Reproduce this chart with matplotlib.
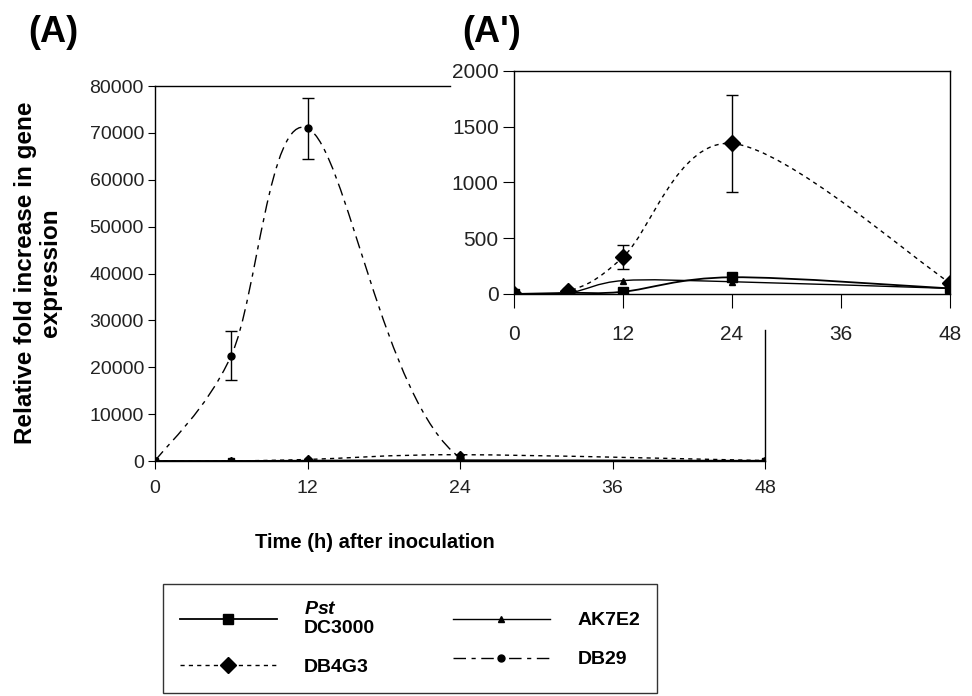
import numpy as np
import matplotlib as mpl; mpl.use("Agg")
import matplotlib.pyplot as plt
from matplotlib.path import Path
from matplotlib.patches import PathPatch
from matplotlib.lines import Line2D
from matplotlib import font_manager as fm

# ---- data ----
hours = [0, 6, 12, 24, 48]
pst   = [0, 10, 20, 150, 50]
ak7e2 = [0, 10, 120, 110, 50]
db4g3 = [0, 25, 330, 1350, 100]
db4g3_err = [0, 0, 110, 435, 0]
db29  = [0, 22500, 71000, 700, 0]
db29_err = [0, 5300, 6500, 0, 0]
xticks = [0, 12, 24, 36, 48]
main_yticks = list(range(0, 80001, 10000))
inset_yticks = [0, 500, 1000, 1500, 2000]

names = [f.name for f in fm.fontManager.ttflist]
NARROW = "Liberation Sans Narrow" if "Liberation Sans Narrow" in names else "Liberation Sans"
mpl.rcParams.update({"font.family": ["Liberation Sans", "DejaVu Sans"],
                     "mathtext.fontset": "custom",
                     "mathtext.rm": "Liberation Sans",
                     "mathtext.it": "Liberation Sans:italic",
                     "mathtext.bf": "Liberation Sans:bold",
                     "mathtext.bfit": "Liberation Sans:bold:italic"})

STY = {
    "pst":   dict(ls="-",  marker="s", ms=7,  lw=1.3),
    "ak":    dict(ls="-",  marker="^", ms=5,  lw=1.0),
    "db4":   dict(ls=(0, (3, 3)), marker="D", ms=8, lw=1.0),
    "db29":  dict(ls=(0, (9, 4, 3, 4)), marker="o", ms=5, lw=1.0),
}

def smooth_path(x, y):
    # Excel-style smoothed line: cubic bezier through the points
    p = np.column_stack([x, y]).astype(float)
    n = len(p)
    verts = [p[0]]; codes = [Path.MOVETO]
    for i in range(n - 1):
        p0 = p[i - 1] if i > 0 else p[i]
        p3 = p[i + 2] if i + 2 < n else p[i + 1]
        c1 = p[i] + (p[i + 1] - p0) / 6.0
        c2 = p[i + 1] - (p3 - p[i]) / 6.0
        verts += [c1, c2, p[i + 1]]; codes += [Path.CURVE4] * 3
    return Path(verts, codes)

def series(ax, x, y, key, err=None, msscale=1.0):
    st = STY[key]
    ax.add_patch(PathPatch(smooth_path(x, y), fill=False, ec="black",
                           lw=st["lw"], ls=st["ls"], zorder=3))
    if err is not None:
        idx = [i for i, e in enumerate(err) if e > 0]
        ax.errorbar([x[i] for i in idx], [y[i] for i in idx], yerr=[err[i] for i in idx],
                    fmt="none", ecolor="black", elinewidth=1.0, capsize=4, capthick=1.0, zorder=4)
    ax.plot(x, y, ls="none", marker=st["marker"], ms=st["ms"] * msscale, color="black", zorder=5)

def style_axes(ax):
    for s in ax.spines.values():
        s.set_linewidth(1.0)
    ax.tick_params(direction="out", colors="black", labelcolor="#222222")
    for lab in ax.get_xticklabels() + ax.get_yticklabels():
        lab.set_fontfamily([NARROW, "DejaVu Sans"])

fig = plt.figure(figsize=(9.72, 6.96), dpi=100)

# main panel (A)
ax = fig.add_axes([0.1595, 0.3376, 0.6276, 0.5388])
series(ax, hours, pst, "pst", msscale=0.6)
series(ax, hours, ak7e2, "ak", msscale=0.8)
series(ax, hours, db4g3, "db4", msscale=0.5)
series(ax, hours, db29, "db29", err=db29_err)
ax.set_xlim(0, 48); ax.set_ylim(0, 80000)
ax.set_xticks(xticks); ax.set_yticks(main_yticks)
ax.set_xticklabels([str(t) for t in xticks], fontsize=14)
ax.set_yticklabels([str(t) for t in main_yticks], fontsize=14)
ax.tick_params(axis="x", length=6, pad=8)
ax.tick_params(axis="y", length=5, pad=3)
ax.spines["top"].set_bounds(0, 23.2)
ax.spines["right"].set_bounds(0, 27900)
style_axes(ax)

# inset panel (A')
axi = fig.add_axes([0.5288, 0.5776, 0.4486, 0.3204])
series(axi, hours, pst, "pst")
series(axi, hours, ak7e2, "ak")
series(axi, hours, db4g3, "db4", err=db4g3_err)
axi.set_xlim(0, 48); axi.set_ylim(0, 2000)
axi.set_xticks(xticks); axi.set_yticks(inset_yticks)
axi.set_xticklabels([str(t) for t in xticks], fontsize=15)
axi.set_yticklabels([str(t) for t in inset_yticks], fontsize=15)
axi.tick_params(axis="x", length=10, pad=12)
axi.tick_params(axis="y", length=8, pad=3)
style_axes(axi)

# panel letters and axis titles
fig.text(53 / 972, 1 - 32 / 696, "(A)", fontsize=26, fontweight="bold", ha="center", va="center")
fig.text(492 / 972, 1 - 32 / 696, "(A')", fontsize=26, fontweight="bold", ha="center", va="center")
fig.text(38 / 972, 1 - 273 / 696, "Relative fold increase in gene\nexpression", rotation=90,
         fontsize=17.5, fontweight="bold", ha="center", va="center", multialignment="center",
         linespacing=1.15)
fig.text(375 / 972, 1 - 543 / 696, "Time (h) after inoculation", fontsize=14.5,
         fontweight="bold", ha="center", va="center")

# legend
def handle(key):
    st = STY[key]
    return Line2D([0], [0], color="black", lw=st["lw"], ls=st["ls"], marker=st["marker"], ms=st["ms"])

handles = [handle("pst"), handle("db4"), handle("ak"), handle("db29")]
labels = [r"$\mathbfit{Pst}$" + "\nDC3000", "DB4G3", "AK7E2", "DB29"]
leg = fig.legend(handles, labels, loc="upper left", bbox_to_anchor=(163 / 972, 1 - 584 / 696),
                 ncol=2, prop={"weight": "bold", "size": 14}, frameon=True, borderaxespad=0,
                 fancybox=False, edgecolor="black", handlelength=5.0, handletextpad=1.4,
                 columnspacing=4.0, labelspacing=1.1, borderpad=0.85)
leg.get_frame().set_linewidth(1.0)

fig.savefig("out.png", dpi=100)
